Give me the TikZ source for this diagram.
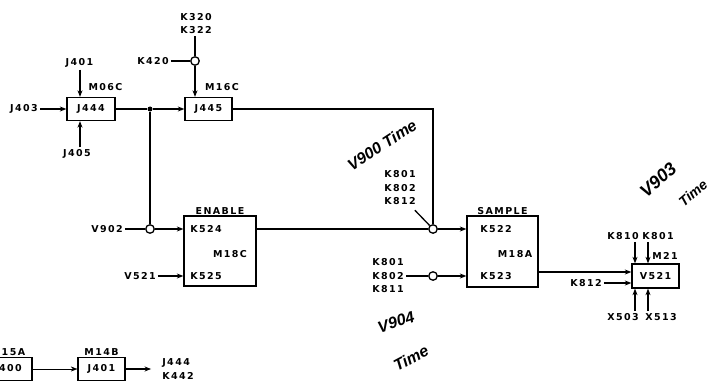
\documentclass[tikz,border=0pt]{standalone}
\usepackage{fontspec}
\usetikzlibrary{arrows.meta,calc}
\newfontfamily\lblfont[LetterSpace=15]{DejaVu Sans}
\newfontfamily\handfont{Liberation Sans}

\begin{document}
\begin{tikzpicture}[
        x=1pt,
        y=-1pt,
        >={Stealth[length=6.5pt,width=5pt]},
        every node/.style={font=\lblfont\bfseries\fontsize{9.5}{13.5}\selectfont, inner sep=2pt},
        blk/.style={draw, line width=1.3pt, inner sep=0pt},
        tap/.style={circle, draw, fill=white, line width=1.3pt, inner sep=0pt, minimum size=8.5pt},
        jdot/.style={circle, fill, inner sep=0pt, minimum size=5pt},
        wire/.style={line width=1.3pt},
        hand/.style={font=\handfont\itshape\bfseries\fontsize{16}{16}\selectfont, inner sep=0pt}
      ]

      % --- 1. 枠 ---
      \clip (0,0) rectangle (719,385);

      % --- 2. J444 / J445 ---
      \node[blk, minimum width=48pt, minimum height=23pt] (j444) at (91,109) {J444};
      \node (j403) at (24,109) {J403};
      \node (j401) at (79.5,63) {J401};
      \node (j405) at (77,154) {J405};
      \node (m06c) at (105.5,87) {M06C};
      \draw[wire,->] (j403) -- (j444);
      \draw[wire,->] (j401.south -| 80,0) -- (80,0 |- j444.north);
      \draw[wire,->] (j405.north -| 80,0) -- (80,0 |- j444.south);

      \node[jdot] (dot) at (150,109) {};
      \node[blk, minimum width=47pt, minimum height=23pt] (j445) at (208.5,109) {J445};
      \node (m16c) at (222,87) {M16C};
      \draw[wire] (j444) -- (dot);
      \draw[wire,->] (dot) -- (j445);

      % K420 入力
      \node[align=center] (k320) at (196,23.5) {K320\\K322};
      \node (k420) at (153,61) {K420};
      \node[tap] (c420) at (195,61) {};
      \draw[wire] (c420 |- k320.south) -- (c420);
      \draw[wire] (k420) -- (c420);
      \draw[wire,->] (c420) -- (c420 |- j445.north);

      % --- 3. ENABLE ---
      \node[blk, minimum width=72pt, minimum height=70pt,
        label={[yshift=-1pt]above:ENABLE}] (enable) at (220,251) {};
      \node (k524) at (206,229) {K524};
      \node (m18c) at (230,254) {M18C};
      \node (k525) at (206,276) {K525};

      \node (v902) at (107,229) {V902};
      \node[tap] (c902) at (150,229) {};
      \draw[wire] (dot) -- (c902);
      \draw[wire] (v902) -- (c902);
      \draw[wire,->] (c902) -- (c902 -| enable.west);
      \node (v521a) at (140,276) {V521};
      \draw[wire,->] (v521a) -- (v521a -| enable.west);

      % --- 4. SAMPLE ---
      \node[blk, minimum width=71pt, minimum height=71pt,
        label={[yshift=-1pt]above:SAMPLE}] (sample) at (502.5,251.5) {};
      \node (k522) at (496,229) {K522};
      \node (m18a) at (515,254) {M18A};
      \node (k523) at (496,276) {K523};

      \coordinate (cnr) at (433,109);
      \node[tap] (c900) at (433,229) {};
      \draw[wire] (j445) -- (cnr) -- (c900);
      \draw[wire] (enable.east |- c900) -- (c900);
      \draw[wire,->] (c900) -- (c900 -| sample.west);
      \node[align=left] (grp1) at (400,188) {K801\\K802\\K812};
      \draw[wire] ([shift={(-3pt,-3pt)}]grp1.south east) -- (c900);

      \node[align=left] (grp2) at (388,276) {K801\\K802\\K811};
      \node[tap] (c904) at (433,276) {};
      \draw[wire] (grp2) -- (c904);
      \draw[wire,->] (c904) -- (c904 -| sample.west);

      % --- 5. V521 (M21) ---
      \node[blk, minimum width=47pt, minimum height=24pt] (v521) at (655.5,276) {V521};
      \node (m21) at (665,256) {M21};
      \coordinate (vin) at ([yshift=4pt]v521.west);
      \coordinate (vk) at ([yshift=-7pt]v521.west);
      \coordinate (vt1) at ([xshift=-20.5pt]v521.north);
      \coordinate (vt2) at ([xshift=-7.5pt]v521.north);
      \coordinate (vb1) at ([xshift=-20.5pt]v521.south);
      \coordinate (vb2) at ([xshift=-7.5pt]v521.south);
      \draw[wire,->] (sample.east |- vin) -- (vin);
      \node (k812) at (586,283) {K812};
      \draw[wire,->] (k812) -- (vk);
      \node (k810) at (623,236) {K810};
      \node (k801) at (658,236) {K801};
      \draw[wire,->] (vt1 |- k810.south) -- (vt1);
      \draw[wire,->] (vt2 |- k801.south) -- (vt2);
      \node (x503) at (623,317) {X503};
      \node (x513) at (661,317) {X513};
      \draw[wire,->] (vb1 |- x503.north) -- (vb1);
      \draw[wire,->] (vb2 |- x513.north) -- (vb2);

      % --- 6. 下段 ---
      \node[blk, minimum width=48pt, minimum height=23pt,
        label={[yshift=-1pt]above:M15A}] (j400) at (8,369) {J400};
      \node[blk, minimum width=47pt, minimum height=23pt,
        label={[yshift=-1pt]above:M14B}] (j401b) at (101.5,369) {J401};
      \node[align=left] (jk) at (178,369) {J444\\K442};
      \draw[thin,->] (j400) -- (j401b);
      \draw[wire,->,shorten >=9pt] (j401b) -- (jk);

      % --- 7. 手書きメモ ---
      \node[hand, rotate=33] (t900) at (382,145) {V900 Time};
      \node[hand, rotate=18] (v904) at (396,322) {V904};
      \node[hand, rotate=28] (t904) at (411,358) {Time};
      \node[hand, rotate=42, font=\handfont\itshape\bfseries\fontsize{18}{18}\selectfont] (v903) at (658,180) {V903};
      \node[hand, rotate=40, font=\handfont\itshape\bfseries\fontsize{14}{14}\selectfont] (t903) at (693,193) {Time};

    \end{tikzpicture}
\end{document}
